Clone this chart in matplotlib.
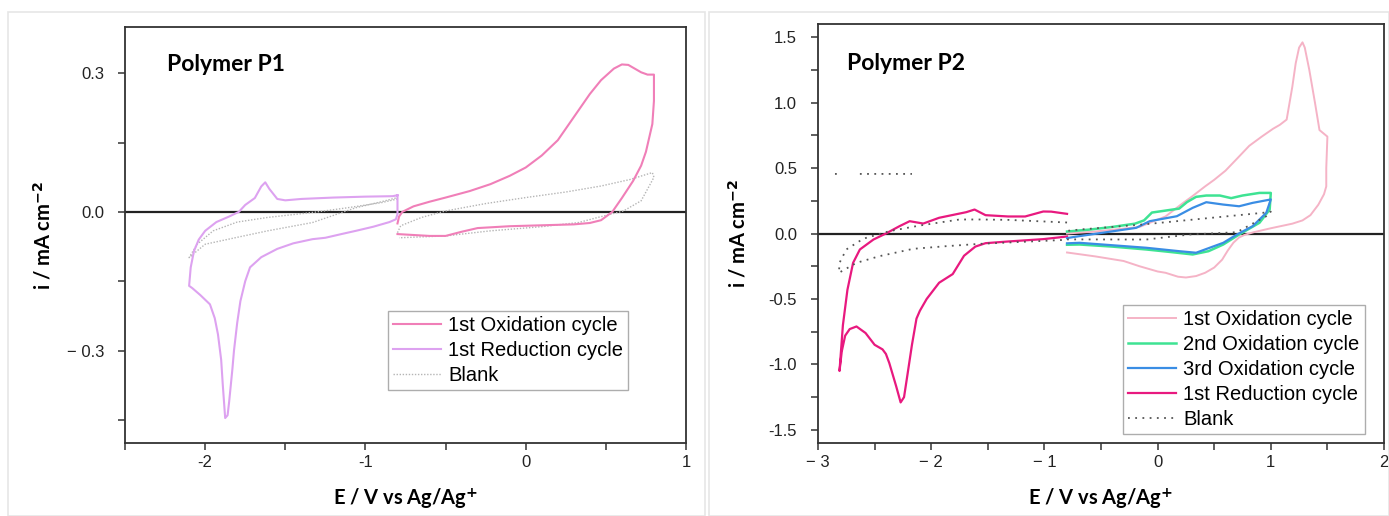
import matplotlib
matplotlib.use("Agg")
import matplotlib.pyplot as plt
import numpy as np
from matplotlib.patches import Rectangle

nan = np.nan

# ---------------- Polymer P1 ----------------
p1_ox_v = [-0.80, -0.79, -0.77, -0.70, -0.60, -0.50, -0.35, -0.22, -0.10, 0.00, 0.10, 0.20,
           0.30, 0.40, 0.47, 0.55, 0.60, 0.64, 0.68, 0.72, 0.76, 0.80, 0.80, 0.79, 0.77,
           0.75, 0.72, 0.67, 0.60, 0.54, 0.47, 0.40, 0.30, 0.20, 0.00, -0.10, -0.20, -0.30,
           -0.40, -0.50, -0.60, -0.70, -0.80]
p1_ox_i = [-0.025, -0.010, 0.000, 0.012, 0.022, 0.031, 0.045, 0.060, 0.078, 0.096, 0.122, 0.155,
           0.205, 0.255, 0.285, 0.310, 0.319, 0.318, 0.310, 0.302, 0.297, 0.297, 0.240, 0.190, 0.160,
           0.130, 0.100, 0.067, 0.030, 0.000, -0.018, -0.024, -0.027, -0.028, -0.030, -0.031, -0.033, -0.035,
           -0.043, -0.052, -0.052, -0.050, -0.048]

p1_red_v = [-0.80, -0.83, -1.00, -1.20, -1.40, -1.50, -1.55, -1.60, -1.625, -1.65, -1.69, -1.75,
            -1.79, -1.85, -1.93, -2.00, -2.04, -2.07, -2.09, -2.10, -2.08, -2.03, -1.97, -1.94,
            -1.92, -1.90, -1.89, -1.875, -1.86, -1.85, -1.83, -1.82, -1.80, -1.78, -1.75, -1.72,
            -1.65, -1.55, -1.45, -1.33, -1.25, -1.15, -1.06, -0.95, -0.85, -0.81, -0.80, -0.80]
p1_red_i = [0.036, 0.034, 0.033, 0.031, 0.028, 0.025, 0.028, 0.050, 0.064, 0.055, 0.030, 0.015,
            0.000, -0.010, -0.022, -0.041, -0.060, -0.085, -0.120, -0.160, -0.165, -0.180, -0.200, -0.230,
            -0.265, -0.320, -0.374, -0.446, -0.440, -0.410, -0.340, -0.300, -0.240, -0.193, -0.150, -0.120,
            -0.098, -0.080, -0.068, -0.059, -0.056, -0.048, -0.041, -0.032, -0.022, -0.016, -0.005, 0.036]

p1_blank_v = [-0.80, -0.90, -1.11, -1.30, -1.61, -1.80, -1.95, -2.05, -2.10, -2.07, -2.00, -1.80,
              -1.61, -1.33, -1.06, -0.90, -0.80, nan,
              -0.80, -0.78, -0.65, -0.50, -0.25, 0.00, 0.25, 0.47, 0.65, 0.79, 0.80, 0.78,
              0.72, 0.61, 0.45, 0.33, 0.10, -0.22, -0.50, -0.79]
p1_blank_i = [0.028, 0.020, 0.009, 0.000, -0.012, -0.022, -0.041, -0.070, -0.099, -0.090, -0.070, -0.055,
              -0.041, -0.023, 0.009, 0.022, 0.031, nan,
              -0.045, -0.030, -0.012, 0.002, 0.018, 0.031, 0.043, 0.056, 0.070, 0.085, 0.075, 0.062,
              0.024, 0.002, -0.012, -0.023, -0.032, -0.041, -0.052, -0.056]

# ---------------- Polymer P2 ----------------
p2_ox1_v = [-0.80, -0.55, -0.30, -0.16, 0.00, 0.07, 0.18, 0.25, 0.34, 0.42, 0.50, 0.57, 0.62,
            0.67, 0.72, 0.77, 0.85, 1.00, 1.19, 1.28, 1.35, 1.42, 1.47, 1.49, 1.49, 1.50,
            1.43, 1.39, 1.34, 1.30, 1.28, 1.25, 1.22, 1.19, 1.14, 1.08, 1.02, 0.92, 0.81,
            0.70, 0.60, 0.50, 0.42, 0.30, 0.22, 0.07, -0.16, -0.55, -0.80]
p2_ox1_i = [-0.145, -0.175, -0.210, -0.250, -0.290, -0.300, -0.330, -0.336, -0.325, -0.300, -0.260, -0.200, -0.130,
            -0.070, -0.030, -0.010, 0.010, 0.040, 0.075, 0.100, 0.140, 0.220, 0.300, 0.360, 0.500, 0.740,
            0.790, 1.000, 1.250, 1.420, 1.460, 1.420, 1.300, 1.120, 0.870, 0.830, 0.800, 0.740, 0.670,
            0.570, 0.480, 0.410, 0.360, 0.280, 0.230, 0.130, 0.050, 0.015, 0.000]

p2_ox2_v = [-0.80, -0.69, -0.40, -0.10, 0.10, 0.31, 0.45, 0.58, 0.72, 0.90, 0.99, 1.00,
            0.90, 0.75, 0.65, 0.55, 0.43, 0.34, 0.26, 0.19, 0.07, -0.05, -0.12, -0.20,
            -0.40, -0.60, -0.80]
p2_ox2_i = [-0.086, -0.084, -0.100, -0.122, -0.140, -0.160, -0.135, -0.084, -0.008, 0.082, 0.183, 0.310,
            0.310, 0.290, 0.270, 0.290, 0.290, 0.280, 0.240, 0.190, 0.175, 0.160, 0.100, 0.075,
            0.050, 0.030, 0.015]

p2_ox3_v = [-0.80, -0.69, -0.10, 0.19, 0.34, 0.58, 0.70, 0.84, 0.96, 1.00,
            0.84, 0.72, 0.58, 0.43, 0.31, 0.17, -0.07, -0.19, -0.69, -0.80]
p2_ox3_i = [-0.075, -0.071, -0.109, -0.135, -0.147, -0.071, -0.008, 0.056, 0.158, 0.260,
            0.234, 0.208, 0.221, 0.239, 0.196, 0.132, 0.094, 0.043, -0.020, -0.035]

p2_red_v = [-0.80, -0.94, -1.01, -1.17, -1.32, -1.52, -1.617, -1.69, -1.93, -2.07, -2.19, -2.28,
            -2.40, -2.51, -2.63, -2.69, -2.74, -2.78, -2.81, -2.79, -2.76, -2.72, -2.66, -2.58,
            -2.50, -2.43, -2.40, -2.37, -2.31, -2.27, -2.24, -2.21, -2.17, -2.13, -2.10, -2.04,
            -1.93, -1.81, -1.71, -1.61, -1.52, -1.32, -1.01, -0.80]
p2_red_i = [0.150, 0.167, 0.168, 0.130, 0.130, 0.140, 0.183, 0.163, 0.120, 0.076, 0.094, 0.056,
            0.000, -0.046, -0.122, -0.224, -0.430, -0.700, -1.050, -0.900, -0.780, -0.730, -0.710, -0.760,
            -0.850, -0.885, -0.920, -0.990, -1.165, -1.290, -1.250, -1.080, -0.850, -0.650, -0.590, -0.500,
            -0.376, -0.310, -0.170, -0.100, -0.074, -0.061, -0.043, -0.023]

p2_blank_v = [-0.80, -1.32, -1.57, -1.75, -2.10, -2.37, -2.60, -2.75, -2.81, -2.815,
              -2.66, -2.456, -2.16, -1.87, -1.57, -1.20, -0.80, nan,
              -0.80, -0.10, 0.28, 0.70, 0.96, 1.00, 0.93, -0.13, -0.69, -0.80, nan,
              -2.85, -2.82, nan, -2.63, -2.17]
p2_blank_i = [0.084, 0.104, 0.107, 0.107, 0.061, 0.018, -0.040, -0.122, -0.224, -0.300,
              -0.224, -0.173, -0.117, -0.097, -0.079, -0.064, -0.048, nan,
              -0.045, -0.046, -0.008, 0.010, 0.132, 0.167, 0.158, 0.069, 0.030, 0.020, nan,
              0.455, 0.455, nan, 0.455, 0.455]

# ---------------- figure ----------------
fig = plt.figure(figsize=(13.89, 5.16), dpi=100)
tick_font = "Liberation Sans"
label_font = "Lato"

# light panel frames
fig.patches.append(Rectangle((8 / 1389, 0), (705 - 8) / 1389, 1 - 12 / 516,
                             transform=fig.transFigure, fill=False, ec="#e6e6e6", lw=1.2))
fig.patches.append(Rectangle((709 / 1389, 0), (1389 - 709) / 1389, 1 - 12 / 516,
                             transform=fig.transFigure, fill=False, ec="#e6e6e6", lw=1.2))

ax1 = fig.add_axes([125 / 1389, 1 - 443 / 516, 561 / 1389, 416 / 516])
ax2 = fig.add_axes([818 / 1389, 1 - 443 / 516, 566 / 1389, 419 / 516])

ax1.plot(p1_ox_v, p1_ox_i, color="#F07FB8", lw=1.5, label="1st Oxidation cycle", zorder=3)
ax1.plot(p1_red_v, p1_red_i, color="#DDA2F0", lw=1.5, label="1st Reduction cycle", zorder=3)
ax1.plot(p1_blank_v, p1_blank_i, color="#B5B5B5", lw=1.0, ls=(0, (1, 1.2)), label="Blank", zorder=2)

ax2.plot(p2_ox1_v, p2_ox1_i, color="#F5B3C6", lw=1.4, label="1st Oxidation cycle", zorder=2)
ax2.plot(p2_ox2_v, p2_ox2_i, color="#3EE393", lw=1.8, label="2nd Oxidation cycle", zorder=3)
ax2.plot(p2_ox3_v, p2_ox3_i, color="#3A8DE4", lw=1.6, label="3rd Oxidation cycle", zorder=4)
ax2.plot(p2_red_v, p2_red_i, color="#E8197F", lw=1.6, label="1st Reduction cycle", zorder=3)
ax2.plot(p2_blank_v, p2_blank_i, color="#555555", lw=1.3, ls=(0, (1, 3)), label="Blank", zorder=5)

for ax in (ax1, ax2):
    ax.axhline(0, color="#222222", lw=1.6, zorder=1)
    for s in ax.spines.values():
        s.set_color("#333333")
        s.set_linewidth(1.3)
    ax.tick_params(which="both", direction="out", colors="#333333", width=1.1,
                   labelsize=12, labelcolor="#222222", length=5)
    ax.tick_params(axis="y", which="both", pad=10)
    ax.set_xlabel("E / V vs Ag/Ag$^{\\mathbf{+}}$", fontsize=14.5, fontweight="bold",
                  family=label_font, labelpad=12)

ax1.set_ylabel("i / mA cm$^{\\mathbf{-2}}$", fontsize=14.5, fontweight="bold",
               family=label_font, labelpad=9)
ax2.set_ylabel("i / mA cm$^{\\mathbf{-2}}$", fontsize=14.5, fontweight="bold",
               family=label_font, labelpad=14)

# P1 axes
ax1.set_xlim(-2.5, 1.0)
ax1.set_ylim(-0.5, 0.4)
ax1.set_xticks([-2, -1, 0, 1])
ax1.set_xticklabels(["-2", "-1", "0", "1"], family=tick_font)
ax1.set_xticks([-2.5, -1.5, -0.5, 0.5], minor=True)
ax1.set_yticks([0.3, 0.0, -0.3])
ax1.set_yticklabels(["0.3", "0.0", "\u2212 0.3"], family=tick_font)
ax1.set_yticks([0.15, -0.15, -0.45], minor=True)
ax1.text(0.075, 0.91, "Polymer P1", transform=ax1.transAxes, fontsize=16.5,
         fontweight="bold", family=label_font, va="center")
leg1 = ax1.legend(loc="lower right", bbox_to_anchor=(0.897, 0.127), prop={"family": tick_font, "size": 14.5},
                  frameon=True, fancybox=False, edgecolor="#999999", handlelength=2.4,
                  handletextpad=0.35, borderpad=0.25, labelspacing=0.3, borderaxespad=0)
leg1.get_frame().set_linewidth(1.0)

# P2 axes
ax2.set_xlim(-3, 2)
ax2.set_ylim(-1.6, 1.6)
ax2.set_xticks([-3, -2, -1, 0, 1, 2])
ax2.set_xticklabels(["\u2212 3", "\u2212 2", "\u2212 1", "0", "1", "2"], family=tick_font)
ax2.set_xticks([-2.5, -1.5, -0.5, 0.5, 1.5], minor=True)
ax2.set_yticks([1.5, 1.0, 0.5, 0.0, -0.5, -1.0, -1.5])
ax2.set_yticklabels(["1.5", "1.0", "0.5", "0.0", "-0.5", "-1.0", "-1.5"], family=tick_font)
ax2.set_yticks([1.25, 0.75, 0.25, -0.25, -0.75, -1.25], minor=True)
ax2.text(0.051, 0.905, "Polymer P2", transform=ax2.transAxes, fontsize=16.5,
         fontweight="bold", family=label_font, va="center")
leg2 = ax2.legend(loc="lower right", bbox_to_anchor=(0.966, 0.022), prop={"family": tick_font, "size": 14.5},
                  frameon=True, fancybox=False, edgecolor="#999999", handlelength=2.4,
                  handletextpad=0.35, borderpad=0.25, labelspacing=0.3, borderaxespad=0)
leg2.get_frame().set_linewidth(1.0)

fig.savefig("out.png", dpi=100)
